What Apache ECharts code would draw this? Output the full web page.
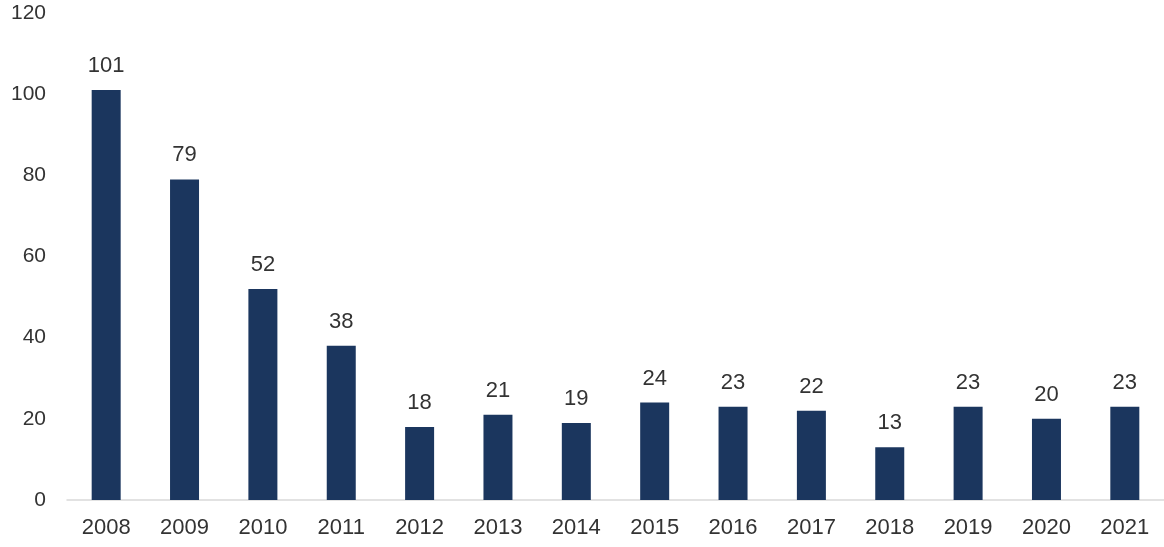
<!DOCTYPE html>
<html><head><meta charset="utf-8">
<script src="https://cdn.jsdelivr.net/npm/echarts@6/dist/echarts.min.js"></script>
<style>html,body{margin:0;padding:0;background:#fff}#c{width:1164px;height:547px}</style>
</head><body><div id="c"></div>
<script>
const categories = ['2008','2009','2010','2011','2012','2013','2014','2015','2016','2017','2018','2019','2020','2021'];
const values = [101,79,52,38,18,21,19,24,23,22,13,23,20,23];
const yTicks = [0,20,40,60,80,100,120];

const chart = echarts.init(document.getElementById('c'));
chart.setOption({
  animation:false,
  grid:{left:67, top:13, width:1099, bottom:47, containLabel:false},
  xAxis:{type:'category', data:categories,
    axisLine:{lineStyle:{color:'#d9d9d9', width:1.5}},
    axisTick:{show:false},
    axisLabel:{color:'#333', fontSize:22, fontFamily:'Liberation Sans, Arial', margin:17}},
  yAxis:{type:'value', min:yTicks[0], max:yTicks[yTicks.length-1], interval:20,
    axisLine:{show:false}, axisTick:{show:false}, splitLine:{show:false},
    axisLabel:{color:'#333', fontSize:21, fontFamily:'Liberation Sans, Arial', margin:21}},
  series:[{type:'bar', data:values, barWidth:29,
    itemStyle:{color:'#1b365e'},
    label:{show:true, position:'top', distance:13, color:'#333', fontSize:22, fontFamily:'Liberation Sans, Arial'}}]
});
</script></body></html>
